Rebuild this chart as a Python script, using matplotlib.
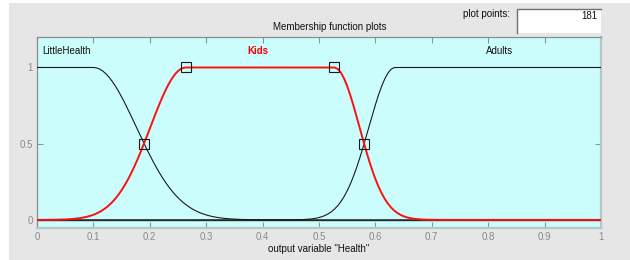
import numpy as np
import matplotlib
matplotlib.use("Agg")
import matplotlib.pyplot as plt
from matplotlib.patches import Rectangle

plt.rcParams['font.family'] = ['Liberation Sans', 'DejaVu Sans']

# ---- data ----
n_points = 181
mf_names = ["LittleHealth", "Kids", "Adults"]
# gauss2mf parameters [sigma1, c1, sigma2, c2]; None -> flat side
little_params = [None, -0.1, 0.0764, 0.10]
kids_params = [0.0628, 0.2636, 0.045, 0.527]
adults_params = [0.0467, 0.635, None, 1.1]
kids_marker_x = [0.19, 0.2636, 0.527, 0.58]
kids_marker_y = [0.5, 1.0, 1.0, 0.5]
label_x = [0.009, 0.392, 0.821]
label_y = [1.11, 1.11, 1.11]
xticks = [0, 0.1, 0.2, 0.3, 0.4, 0.5, 0.6, 0.7, 0.8, 0.9, 1]
xtick_labels = ["0", "0.1", "0.2", "0.3", "0.4", "0.5", "0.6", "0.7", "0.8", "0.9", "1"]
yticks = [0, 0.5, 1]
ytick_labels = ["0", "0.5", "1"]


def gauss2mf(x, p):
    s1, c1, s2, c2 = p
    y = np.ones_like(x)
    if s1 is not None:
        m = x < c1
        y[m] = np.exp(-(x[m] - c1) ** 2 / (2 * s1 ** 2))
    if s2 is not None:
        m = x > c2
        y[m] = np.exp(-(x[m] - c2) ** 2 / (2 * s2 ** 2))
    return y


x = np.linspace(0, 1, n_points)

fig = plt.figure(figsize=(6.3, 2.6), dpi=100, facecolor="white")
# gray panel
fig.patches.append(Rectangle((9 / 630, 0), 1 - 9 / 630, 1 - 3 / 260,
                             transform=fig.transFigure, facecolor="#e6e6e6",
                             edgecolor="none", zorder=-10))

ax = fig.add_axes([37 / 630, (260 - 227.5) / 260, 564 / 630, (227.5 - 37) / 260])
ax.set_facecolor("#ccfdfd")
ax.set_xlim(0, 1)
ax.set_ylim(-0.05, 1.2)

ax.axhline(0, color="#333333", lw=1.0, zorder=2)
ax.plot(x, gauss2mf(x, little_params), color="#1a1a1a", lw=0.8, zorder=3)
ax.plot(x, gauss2mf(x, adults_params), color="#1a1a1a", lw=0.8, zorder=3)
ax.plot(x, gauss2mf(x, kids_params), color="#ff1010", lw=1.4, zorder=4)
ax.plot(kids_marker_x, kids_marker_y, ls="none", marker="s", ms=6.5,
        mfc="none", mec="#1a1a1a", mew=0.8, zorder=5)

colors = ["#111111", "#ff0000", "#111111"]
weights = ["normal", "bold", "normal"]
has = ["left", "center", "center"]
for name, lx, ly, c, w, ha in zip(mf_names, label_x, label_y, colors, weights, has):
    ax.text(lx, ly, name, color=c, fontweight=w, ha=ha, va="center", fontsize=7)

ax.set_xticks(xticks)
ax.set_xticklabels(xtick_labels)
ax.set_yticks(yticks)
ax.set_yticklabels(ytick_labels)
ax.tick_params(direction="in", length=4, width=0.8, color="#909090",
               labelcolor="#8a8a8a", labelsize=7, top=True, right=True, pad=3)
for side in ["left", "top"]:
    ax.spines[side].set_color("#8c8c8c")
    ax.spines[side].set_linewidth(0.9)
for side in ["right", "bottom"]:
    ax.spines[side].set_color("#b4c8c8")
    ax.spines[side].set_linewidth(1.6)

ax.set_xlabel('output variable "Health"', fontsize=7, color="#111111", labelpad=1.5)

fig.text(330 / 630, 1 - 27 / 260, "Membership function plots", ha="center",
         va="center", fontsize=7, color="#111111")
fig.text(510 / 630, 1 - 14 / 260, "plot points:", ha="right", va="center",
         fontsize=7, color="#111111")
# edit box
bx0, bx1, by0, by1 = 517, 601, 9, 33
fig.patches.append(Rectangle((bx0 / 630, 1 - by1 / 260), (bx1 - bx0) / 630,
                             (by1 - by0) / 260, transform=fig.transFigure,
                             facecolor="white", edgecolor="none", zorder=1))
fig.lines.append(plt.Line2D([bx0 / 630, bx0 / 630, bx1 / 630],
                            [1 - by1 / 260, 1 - by0 / 260, 1 - by0 / 260],
                            transform=fig.transFigure, color="#707070", lw=1))
fig.text((bx1 - 4) / 630, 1 - 16 / 260, "181", ha="right", va="center",
         fontsize=7, color="#111111")

fig.savefig("out.png", dpi=100, facecolor=fig.get_facecolor())
